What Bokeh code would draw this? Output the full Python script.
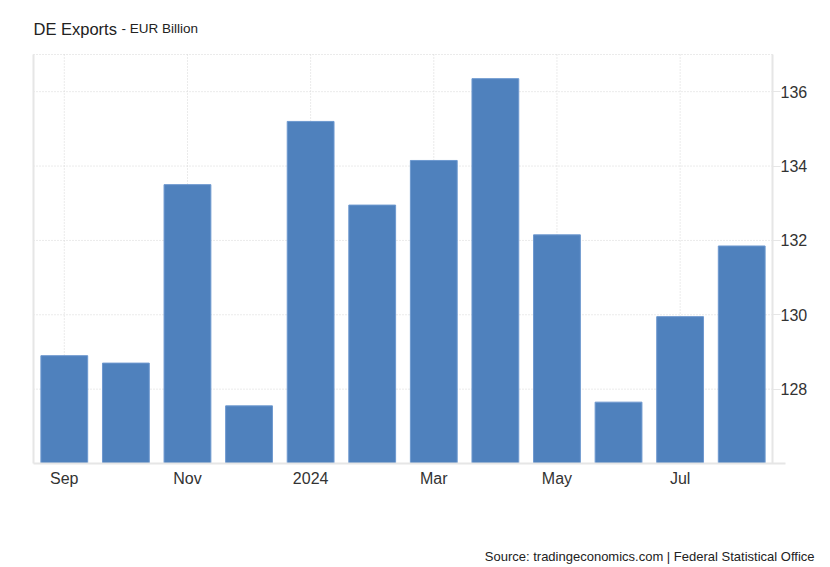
from bokeh.plotting import figure
from bokeh.models import ColumnDataSource, FixedTicker, Range1d, Label, LinearAxis
from bokeh.embed import file_html
from bokeh.resources import INLINE

months = ["Sep", "Oct", "Nov", "Dec", "Jan", "Feb", "Mar", "Apr", "May", "Jun", "Jul", "Aug"]
tick_labels = {0: "Sep", 2: "Nov", 4: "2024", 6: "Mar", 8: "May", 10: "Jul"}
values = [128.9, 128.7, 133.5, 127.55, 135.2, 132.95, 134.15, 136.35, 132.15, 127.65, 129.95, 131.85]
y_ticks = [128, 130, 132, 134, 136]

FONT = "Liberation Sans"
W, H = 830, 567
# plot area in pixels (frame spans whole canvas; data region placed inside it)
L, R, T, B = 33, 772, 54, 463
X0, X1 = -0.5, 11.5
Y0, Y1 = 126, 137
sx = (R - L) / (X1 - X0)
sy = (B - T) / (Y1 - Y0)
x_range = Range1d(X0 - L / sx, X1 + (W - R) / sx)
y_range = Range1d(Y0 - (H - B) / sy, Y1 + T / sy)

idx = list(range(len(months)))
src = ColumnDataSource(dict(x=idx, top=values, month=months))

p = figure(width=W, height=H, output_backend="svg", toolbar_location=None,
           x_range=x_range, y_range=y_range, x_axis_type=None, y_axis_type=None,
           min_border=0, min_border_left=0, min_border_right=0,
           min_border_top=0, min_border_bottom=0)
p.outline_line_color = None
p.background_fill_color = "white"
p.border_fill_color = "white"
p.xgrid.visible = False
p.ygrid.visible = False

# grid lines (dotted), limited to the plot area
xt = sorted(tick_labels.keys())
p.segment(x0=xt, x1=xt, y0=[Y0] * len(xt), y1=[Y1] * len(xt),
          line_color="#d6d6d6", line_dash="1 2", line_width=1)
yt = y_ticks + [Y1]
p.segment(x0=[X0] * len(yt), x1=[X1] * len(yt), y0=yt, y1=yt,
          line_color="#d6d6d6", line_dash="1 2", line_width=1)
p.segment(x0=[X0], x1=[X0], y0=[Y0], y1=[Y1], line_color="#e6e6e6", line_width=2)

p.vbar(x="x", top="top", bottom=Y0, width=0.76, source=src,
       fill_color="#4f81bd", line_color="#6d98cf", line_width=1)

# x axis
xa = LinearAxis(fixed_location=Y0, bounds=(X0, X1 + 0.21))
xa.ticker = FixedTicker(ticks=xt)
xa.major_label_overrides = {k: v for k, v in tick_labels.items()}
xa.major_tick_line_color = None
xa.minor_tick_line_color = None
xa.axis_line_color = "#e6e6e6"
xa.axis_line_width = 2
xa.major_label_text_font = FONT
xa.major_label_text_font_size = "16px"
xa.major_label_text_color = "#333333"
xa.major_label_standoff = 0
p.add_layout(xa, "below")

# y axis on the right
ya = LinearAxis(fixed_location=X1, bounds=(Y0, Y1))
ya.ticker = FixedTicker(ticks=y_ticks)
ya.major_tick_line_color = "#e6e6e6"
ya.major_tick_out = 8
ya.major_tick_in = 0
ya.minor_tick_line_color = None
ya.axis_line_color = "#e6e6e6"
ya.axis_line_width = 2
ya.major_label_text_font = FONT
ya.major_label_text_font_size = "16px"
ya.major_label_text_color = "#333333"
ya.major_label_standoff = 0
p.add_layout(ya, "right")

# titles
p.add_layout(Label(x=33, y=H - 28, x_units="screen", y_units="screen", text="DE Exports",
                   text_font=FONT, text_font_size="16.5px", text_color="#222222",
                   text_baseline="alphabetic"))
p.add_layout(Label(x=121, y=H - 28, x_units="screen", y_units="screen", text="- EUR Billion",
                   text_font=FONT, text_font_size="13.5px", text_color="#222222",
                   text_baseline="alphabetic"))
p.add_layout(Label(x=814, y=H - 556, x_units="screen", y_units="screen",
                   text="Source: tradingeconomics.com | Federal Statistical Office",
                   text_font=FONT, text_font_size="13px", text_color="#222222",
                   text_align="right", text_baseline="alphabetic"))

open("out.html", "w").write(file_html(p, INLINE))
